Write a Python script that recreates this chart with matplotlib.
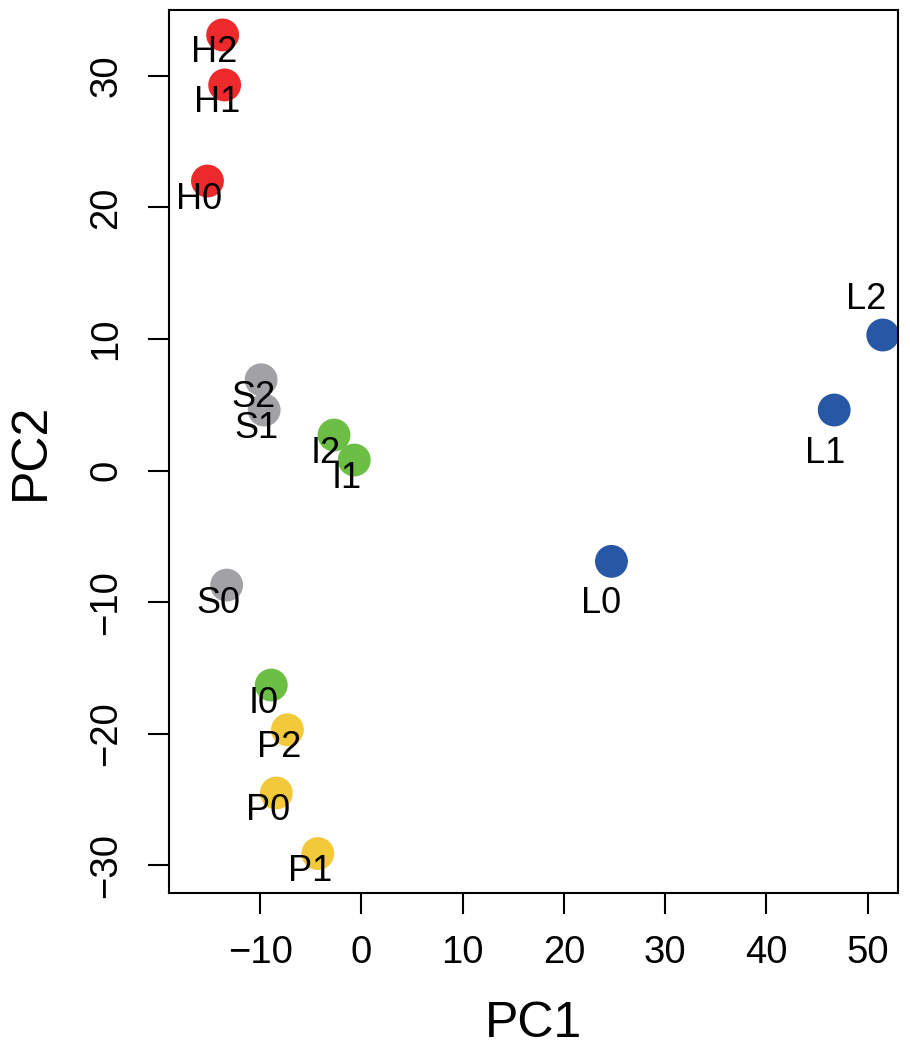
import matplotlib
matplotlib.use("Agg")
import matplotlib.pyplot as plt

plt.rcParams['font.family'] = ['Liberation Sans', 'DejaVu Sans']

samples = ["H2", "H1", "H0", "S2", "S1", "S0", "I2", "I1", "I0",
           "P2", "P0", "P1", "L0", "L1", "L2"]
pc1 = [-13.7, -13.5, -15.2, -9.9, -9.6, -13.3, -2.7, -0.7, -8.9,
       -7.3, -8.4, -4.3, 24.7, 46.7, 51.5]
pc2 = [33.1, 29.3, 22.0, 6.9, 4.6, -8.7, 2.7, 0.8, -16.3,
       -19.7, -24.5, -29.1, -6.9, 4.6, 10.3]
groups = ["H", "H", "H", "S", "S", "S", "I", "I", "I",
          "P", "P", "P", "L", "L", "L"]
group_colors = {"H": "#EC2A2B", "S": "#A2A2A6", "I": "#6DBE45",
                "P": "#F3C93C", "L": "#2757A5"}
# label offsets in pixels (dx, dy) relative to each point
label_offsets = [(-8, -18)] * 12 + [(-10, -42), (-9, -43), (-17, 36)]

xticks = [-10, 0, 10, 20, 30, 40, 50]
yticks = [-30, -20, -10, 0, 10, 20, 30]

fig = plt.figure(figsize=(9.10, 10.48), dpi=100)
ax = fig.add_axes([0.1857, 0.1479, 0.9868 - 0.1857, 0.9905 - 0.1479])

ax.scatter(pc1, pc2, s=560, c=[group_colors[g] for g in groups],
           linewidths=0, zorder=2)
for name, x, y, off in zip(samples, pc1, pc2, label_offsets):
    ax.annotate(name, (x, y), xytext=off, textcoords="offset pixels",
                ha="center", va="center", fontsize=26, color="black", zorder=3)

ax.set_xlim(-19.0, 53.0)
ax.set_ylim(-32.1, 35.0)
ax.set_xticks(xticks)
ax.set_yticks(yticks)
ax.tick_params(axis="both", length=15, width=1.5, labelsize=27.5)
ax.tick_params(axis="x", pad=15)
ax.tick_params(axis="y", pad=17)
for lab in ax.get_yticklabels():
    lab.set_rotation(90)
    lab.set_va("center")
for sp in ax.spines.values():
    sp.set_linewidth(1.5)
ax.set_xlabel("PC1", fontsize=36, labelpad=22)
ax.set_ylabel("PC2", fontsize=36, labelpad=25)

fig.savefig("out.png", dpi=100)
